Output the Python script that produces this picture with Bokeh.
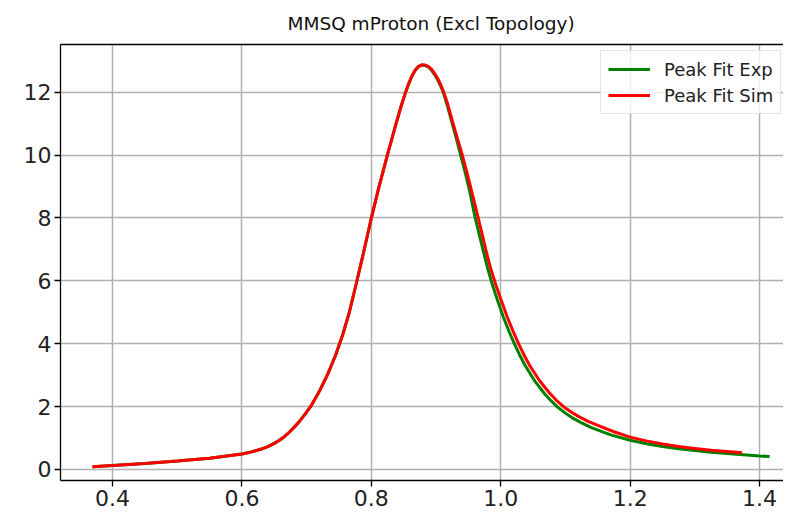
from bokeh.plotting import figure
from bokeh.models import Range1d, FixedTicker, LinearAxis
from bokeh.embed import file_html
from bokeh.resources import INLINE

title_text = "MMSQ mProton (Excl Topology)"
exp_label = "Peak Fit Exp"
sim_label = "Peak Fit Sim"

exp_x = [0.369, 0.40, 0.45, 0.50, 0.55, 0.60, 0.615, 0.63, 0.64, 0.65, 0.658, 0.666,
         0.674, 0.682, 0.69, 0.698, 0.707, 0.72, 0.733, 0.745, 0.756, 0.766, 0.776,
         0.788, 0.7995, 0.812, 0.8255, 0.838, 0.846, 0.853, 0.858, 0.863, 0.868,
         0.873, 0.878, 0.883, 0.888, 0.893, 0.898, 0.903, 0.908, 0.911, 0.917, 0.924,
         0.931, 0.938, 0.945, 0.952, 0.96, 0.967, 0.973, 0.98, 0.987, 0.995, 1.004,
         1.013, 1.021, 1.029, 1.038, 1.053, 1.068, 1.078, 1.0873, 1.10, 1.11, 1.125,
         1.14, 1.17, 1.20, 1.225, 1.25, 1.275, 1.30, 1.325, 1.35, 1.375, 1.40, 1.4155]
exp_y = [0.09, 0.13, 0.19, 0.27, 0.36, 0.49, 0.56, 0.65, 0.73, 0.83, 0.93, 1.05,
         1.2, 1.37, 1.56, 1.77, 2.03, 2.5, 3.05, 3.65, 4.3, 5.0, 5.85,
         6.9, 7.95, 9.0, 10.05, 10.98, 11.55, 12.0, 12.28, 12.52, 12.7,
         12.81, 12.86, 12.85, 12.8, 12.7, 12.55, 12.37, 12.15, 12.0, 11.6, 11.08,
         10.55, 10.0, 9.45, 8.85, 8.05, 7.45, 6.95, 6.38, 5.88, 5.38, 4.85,
         4.38, 4.0, 3.65, 3.3, 2.8, 2.4, 2.18, 1.99, 1.79, 1.65, 1.48,
         1.33, 1.10, 0.93, 0.82, 0.73, 0.66, 0.60, 0.55, 0.51, 0.47, 0.43, 0.41]

sim_x = [0.369, 0.40, 0.45, 0.50, 0.55, 0.60, 0.615, 0.63, 0.64, 0.65, 0.658, 0.666,
         0.674, 0.682, 0.69, 0.698, 0.707, 0.72, 0.733, 0.745, 0.756, 0.766, 0.776,
         0.788, 0.7995, 0.812, 0.8255, 0.838, 0.846, 0.853, 0.858, 0.863, 0.868,
         0.873, 0.878, 0.883, 0.888, 0.893, 0.898, 0.903, 0.908, 0.912, 0.918, 0.925,
         0.932, 0.9405, 0.947, 0.955, 0.964, 0.971, 0.978, 0.985, 0.992, 1.0, 1.01,
         1.02, 1.028, 1.037, 1.045, 1.06, 1.075, 1.086, 1.0976, 1.11, 1.12, 1.135,
         1.15, 1.175, 1.20, 1.225, 1.25, 1.275, 1.30, 1.325, 1.35, 1.373]
sim_y = [0.09, 0.13, 0.19, 0.27, 0.36, 0.49, 0.56, 0.65, 0.73, 0.83, 0.93, 1.05,
         1.2, 1.37, 1.56, 1.77, 2.03, 2.5, 3.05, 3.65, 4.3, 5.0, 5.85,
         6.9, 7.95, 9.0, 10.05, 10.98, 11.55, 12.0, 12.28, 12.52, 12.7,
         12.82, 12.87, 12.86, 12.82, 12.73, 12.59, 12.42, 12.2, 12.0, 11.62, 11.1,
         10.6, 10.0, 9.5, 8.85, 8.1, 7.5, 6.9, 6.35, 5.9, 5.42, 4.85,
         4.35, 3.98, 3.6, 3.3, 2.82, 2.44, 2.2, 1.99, 1.81, 1.69, 1.53,
         1.40, 1.20, 1.03, 0.91, 0.81, 0.73, 0.67, 0.61, 0.57, 0.53]

x_ticks = [0.4, 0.6, 0.8, 1.0, 1.2, 1.4]
x_tick_labels = ["0.4", "0.6", "0.8", "1.0", "1.2", "1.4"]
y_ticks = [0, 2, 4, 6, 8, 10, 12]
y_tick_labels = ["0", "2", "4", "6", "8", "10", "12"]

FONT = "DejaVu Sans"

p = figure(width=783, height=512, output_backend="svg", toolbar_location=None,
           x_range=Range1d(0.3196, 1.437), y_range=Range1d(-0.35, 13.514),
           min_border_left=60, min_border_right=0, min_border_top=43,
           min_border_bottom=32)

p.outline_line_color = None
p.background_fill_color = "white"
p.border_fill_color = "white"

p.title.text = title_text
p.title.align = "left"
p.title.offset = 227
p.title.standoff = 21
p.title.text_font = FONT
p.title.text_font_size = "18.5px"
p.title.text_font_style = "normal"
p.title.text_color = "#111111"

p.xaxis.ticker = FixedTicker(ticks=x_ticks)
p.xaxis.major_label_overrides = {t: l for t, l in zip(x_ticks, x_tick_labels)}
p.yaxis.ticker = FixedTicker(ticks=y_ticks)
p.yaxis.major_label_overrides = {t: l for t, l in zip(y_ticks, y_tick_labels)}

for ax in (p.xaxis, p.yaxis):
    ax.axis_line_color = "black"
    ax.axis_line_width = 1.3
    ax.major_tick_line_color = "black"
    ax.major_tick_line_width = 1.3
    ax.major_tick_out = 6
    ax.major_tick_in = 0
    ax.minor_tick_line_color = None
    ax.major_label_text_font = FONT
    ax.major_label_text_font_size = "22px"
    ax.major_label_text_color = "#222222"
    ax.major_label_standoff = 3

top_axis = LinearAxis(ticker=FixedTicker(ticks=[]), axis_line_color="black",
                      axis_line_width=1.3, major_tick_line_color=None,
                      minor_tick_line_color=None, major_label_text_font_size="0px",
                      major_label_standoff=0, major_tick_out=0, major_tick_in=0,
                      axis_label_standoff=0)
p.add_layout(top_axis, "above")

p.xgrid.ticker = FixedTicker(ticks=x_ticks)
p.ygrid.ticker = FixedTicker(ticks=y_ticks)
p.grid.grid_line_color = "#b0b0b0"
p.grid.grid_line_width = 1.5

p.line(exp_x, exp_y, line_color="green", line_width=3, legend_label=exp_label)
p.line(sim_x, sim_y, line_color="red", line_width=3, legend_label=sim_label)

lg = p.legend[0]
lg.location = (540, 366)
lg.label_text_font = FONT
lg.label_text_font_size = "18px"
lg.label_text_color = "#222222"
lg.glyph_width = 42
lg.glyph_height = 22
lg.label_standoff = 14
lg.padding = 7
lg.spacing = 4
lg.margin = 0
lg.border_line_color = "#cccccc"
lg.border_line_width = 1
lg.background_fill_alpha = 0.8

open("out.html", "w").write(file_html(p, INLINE))
